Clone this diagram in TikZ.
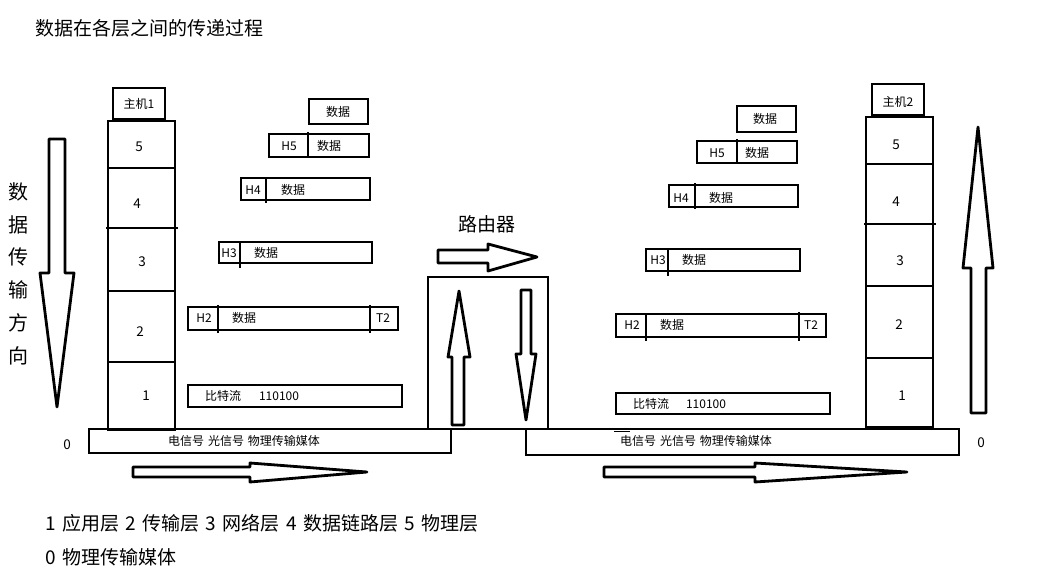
\documentclass[tikz,border=0pt]{standalone}
\usepackage{fontspec}
\setmainfont[WordSpace=1.5]{Noto Sans CJK SC}
\begin{document}
\begin{tikzpicture}[x=1pt,y=-1pt,
  ln/.style={line width=2.8pt},
  arr/.style={line width=2.8pt, line join=round},
  sm/.style={font=\fontsize{12}{14}\selectfont, inner sep=0pt},
  num/.style={font=\fontsize{13.5}{15}\selectfont, inner sep=0pt},
  big/.style={font=\fontsize{19}{22}\selectfont, inner sep=0pt},
  vt/.style={font=\fontsize{20}{22}\selectfont, inner sep=0pt}]
\useasboundingbox[fill=white] (0,0) rectangle (1051,570);

% title
\node[big, anchor=west] (title) at (35,28) {数据在各层之间的传递过程};

% vertical text
\node[vt] (v1) at (19,192) {数};
\node[vt] (v2) at (19,225) {据};
\node[vt] (v3) at (19,257) {传};
\node[vt] (v4) at (19,290) {输};
\node[vt] (v5) at (19,323) {方};
\node[vt] (v6) at (19,356) {向};

% left down arrow
\draw[arr] (49,139) -- (65,139) -- (65,273) -- (74,273) -- (57,407) -- (40,273) -- (49,273) -- cycle;

% medium bars
\draw[ln] (89,429) rectangle (451,453);
\draw[ln] (526,429) rectangle (959,455);
\draw[line width=1pt] (614,431) -- (630,431);
\node[sm] (m1) at (244,441) {电信号 光信号\hspace{0.3em}物理传输媒体};
\node[sm] (m2) at (696,441) {电信号 光信号\hspace{0.3em}物理传输媒体};
\node[num] (z1) at (67,445) {0};
\node[num] (z2) at (981,443) {0};

% left host stack
\draw[ln] (113,88) rectangle (165,119);
\node[sm] (h1) at (139,104) {主机1};
\draw[ln] (108,121) rectangle (175,430);
\draw[ln] (108,168) -- (175,168);
\draw[ln] (106,228) -- (178,228);
\draw[ln] (108,291) -- (175,291);
\draw[ln] (108,362) -- (175,362);
\node[num] (l5) at (139,147) {5};
\node[num] (l4) at (137,204) {4};
\node[num] (l3) at (142,262) {3};
\node[num] (l2) at (140,332) {2};
\node[num] (l1) at (146,396) {1};

% left packets
\draw[ln] (309,99) rectangle (368,124);
\node[sm] (p0) at (338,112) {数据};
\draw[ln] (269,134) rectangle (369,157);
\draw[ln] (308,132) -- (308,157);
\node[sm] (p5h) at (289,146) {H5};
\node[sm] (p5d) at (329,146) {数据};
\draw[ln] (241,178) rectangle (370,200);
\draw[ln] (266,177) -- (266,203);
\node[sm] (p4h) at (253,190) {H4};
\node[sm] (p4d) at (293,190) {数据};
\draw[ln] (219,242) rectangle (372,263);
\draw[ln] (240,242) -- (240,268);
\node[sm] (p3h) at (229,253) {H3};
\node[sm] (p3d) at (266,253) {数据};
\draw[ln] (188,307) rectangle (398,330);
\draw[ln] (218,305) -- (218,333);
\draw[ln] (370,305) -- (370,333);
\node[sm] (p2h) at (204,318) {H2};
\node[sm] (p2d) at (244,318) {数据};
\node[sm] (p2t) at (383,318) {T2};
\draw[ln] (188,385) rectangle (402,407);
\node[sm] (p1a) at (223,396) {比特流};
\node[sm] (p1b) at (279,396) {110100};

% left bottom arrow
\draw[arr] (133,467) -- (250,467) -- (250,463) -- (367,472) -- (250,482) -- (250,477) -- (133,477) -- cycle;

% router
\node[big] (rt) at (487,224) {路由器};
\draw[arr] (438,250) -- (488,250) -- (488,244) -- (537,257) -- (488,271) -- (488,263) -- (438,263) -- cycle;
\draw[ln] (428,277) rectangle (548,429);
\draw[arr] (459,291) -- (470,357) -- (464,357) -- (464,425) -- (452,425) -- (452,357) -- (448,357) -- cycle;
\draw[arr] (521,290) -- (531,290) -- (531,354) -- (536,354) -- (526,420) -- (516,354) -- (521,354) -- cycle;

% right packets
\draw[ln] (737,106) rectangle (796,132);
\node[sm] (q0) at (765,119) {数据};
\draw[ln] (697,141) rectangle (797,163);
\draw[ln] (737,139) -- (737,163);
\node[sm] (q5h) at (717,153) {H5};
\node[sm] (q5d) at (757,153) {数据};
\draw[ln] (669,185) rectangle (798,207);
\draw[ln] (695,183) -- (695,209);
\node[sm] (q4h) at (681,198) {H4};
\node[sm] (q4d) at (721,198) {数据};
\draw[ln] (646,249) rectangle (800,271);
\draw[ln] (668,249) -- (668,276);
\node[sm] (q3h) at (658,260) {H3};
\node[sm] (q3d) at (694,260) {数据};
\draw[ln] (616,314) rectangle (826,337);
\draw[ln] (646,314) -- (646,341);
\draw[ln] (799,312) -- (799,341);
\node[sm] (q2h) at (632,325) {H2};
\node[sm] (q2d) at (672,325) {数据};
\node[sm] (q2t) at (811,325) {T2};
\draw[ln] (616,393) rectangle (830,414);
\node[sm] (q1a) at (651,404) {比特流};
\node[sm] (q1b) at (706,404) {110100};

% right bottom arrow
\draw[arr] (604,467) -- (755,467) -- (755,463) -- (907,472) -- (755,482) -- (755,477) -- (604,477) -- cycle;

% right host stack
\draw[ln] (872,84) rectangle (924,115);
\node[sm] (h2) at (898,102) {主机2};
\draw[ln] (866,117) rectangle (933,427);
\draw[ln] (866,164) -- (933,164);
\draw[ln] (864,224) -- (936,224);
\draw[ln] (866,286) -- (933,286);
\draw[ln] (866,358) -- (933,358);
\node[num] (r5) at (896,145) {5};
\node[num] (r4) at (896,202) {4};
\node[num] (r3) at (900,261) {3};
\node[num] (r2) at (899,325) {2};
\node[num] (r1) at (902,396) {1};

% right up arrow
\draw[arr] (978,127) -- (993,268) -- (986,268) -- (986,413) -- (971,413) -- (971,268) -- (963,268) -- cycle;

% legend
\node[big, anchor=west] (lg1) at (45,523) {1 应用层 2 传输层 3 网络层 4 数据链路层 5 物理层};
\node[big, anchor=west] (lg2) at (45,557) {0 物理传输媒体};
\end{tikzpicture}
\end{document}
